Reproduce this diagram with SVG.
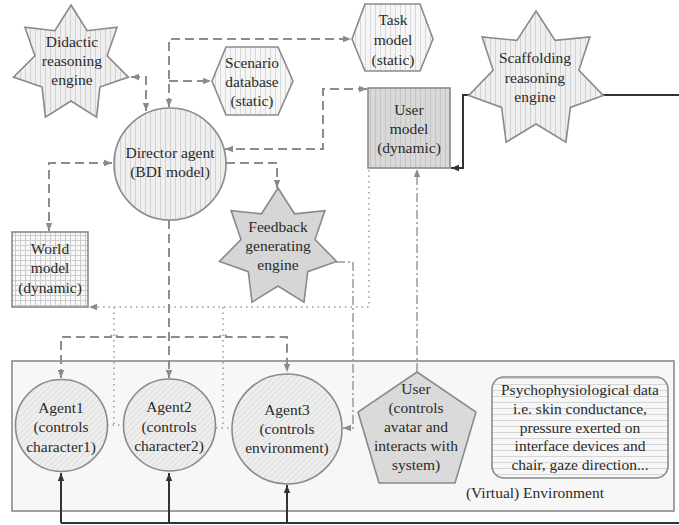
<svg xmlns="http://www.w3.org/2000/svg" width="679" height="525" viewBox="0 0 679 525">
<defs>
  <pattern id="vstripe" width="5" height="10" patternUnits="userSpaceOnUse">
    <rect width="5" height="10" fill="#efefef"/>
    <line x1="0.5" y1="0" x2="0.5" y2="10" stroke="#d2d2d2" stroke-width="1"/>
  </pattern>
  <pattern id="vstripeLight" width="5" height="10" patternUnits="userSpaceOnUse">
    <rect width="5" height="10" fill="#f6f6f6"/>
    <line x1="0.5" y1="0" x2="0.5" y2="10" stroke="#d8d8d8" stroke-width="1"/>
  </pattern>
  <pattern id="vstripeDark" width="5" height="10" patternUnits="userSpaceOnUse">
    <rect width="5" height="10" fill="#d8d8d8"/>
    <line x1="0.5" y1="0" x2="0.5" y2="10" stroke="#c4c4c4" stroke-width="1"/>
  </pattern>
  <pattern id="grid" width="5" height="5" patternUnits="userSpaceOnUse">
    <rect width="5" height="5" fill="#f8f8f8"/>
    <path d="M0,0.5 H5 M0.5,0 V5" stroke="#cccccc" stroke-width="1"/>
  </pattern>
  <pattern id="hatch" width="4" height="4" patternUnits="userSpaceOnUse" patternTransform="rotate(45)">
    <rect width="4" height="4" fill="#eeeeee"/>
    <line x1="0" y1="0" x2="0" y2="4" stroke="#d2d2d2" stroke-width="1.1"/>
  </pattern>
  <pattern id="hstripe" width="10" height="6" patternUnits="userSpaceOnUse">
    <rect width="10" height="6" fill="#f7f7f7"/>
    <line x1="0" y1="0.5" x2="10" y2="0.5" stroke="#d6d6d6" stroke-width="1"/>
  </pattern>
  <marker id="ag" viewBox="0 0 10 10" refX="10" refY="5" markerWidth="8" markerHeight="8" markerUnits="userSpaceOnUse" orient="auto-start-reverse">
    <path d="M0,1 L10,5 L0,9 z" fill="#8a8a8a"/>
  </marker>
  <marker id="ad" viewBox="0 0 10 10" refX="10" refY="5" markerWidth="8" markerHeight="8" markerUnits="userSpaceOnUse" orient="auto-start-reverse">
    <path d="M0,1 L10,5 L0,9 z" fill="#333333"/>
  </marker>
</defs>
<style>
  .shape { stroke: #8a8a8a; stroke-width: 1.6; }
  .t { font-family: "Liberation Serif", "Times New Roman", serif; font-size: 15.5px; fill: #2a2a2a; text-anchor: middle; }
  .dash { fill: none; stroke: #8c8c8c; stroke-width: 2; stroke-dasharray: 9 5; }
  .dot { fill: none; stroke: #9a9a9a; stroke-width: 1.5; stroke-dasharray: 1.5 4; }
  .dashdot { fill: none; stroke: #999999; stroke-width: 1.5; stroke-dasharray: 9 3 2 3; }
  .solid { fill: none; stroke: #333333; stroke-width: 2; }
</style>

<g id="environment">
  <rect x="12" y="361" width="662" height="150" fill="#f7f7f7" class="shape"/>
  <text class="t" x="535" y="498">(Virtual) Environment</text>
</g>

<g id="connectors">
  <path class="dash" d="M131,77 H146 V111" marker-start="url(#ag)" marker-end="url(#ag)"/>
  <path class="dash" d="M169,107 V39 H351" marker-start="url(#ag)" marker-end="url(#ag)"/>
  <path class="dash" d="M169,81 H211" marker-end="url(#ag)"/>
  <path class="dash" d="M367,89 H323 V149 H225" marker-start="url(#ag)" marker-end="url(#ag)"/>
  <path class="dash" d="M226,163 H277 V188" marker-end="url(#ag)"/>
  <path class="dash" d="M112,163 H49 V231" marker-start="url(#ag)" marker-end="url(#ag)"/>
  <path class="dash" d="M169,220 V378" marker-end="url(#ag)"/>
  <path class="dash" d="M61,378 V337 H111 a3,3 0 0 1 6,0 H220 a3,3 0 0 1 6,0 H287 V372" marker-start="url(#ag)" marker-end="url(#ag)"/>
  <path class="dot" d="M369,170 V307 H89" marker-end="url(#ag)"/>
  <path class="dot" d="M114,307 V425 M107,425 H123"/>
  <path class="dot" d="M223,307 V428 M216,428 H232"/>
  <path class="dashdot" d="M336,262 H353 V428 H343" marker-end="url(#ag)"/>
  <path class="dashdot" d="M417,372 V169" marker-end="url(#ag)"/>
  <path class="solid" d="M469,95 H463 V168 H451" marker-end="url(#ad)"/>
  <path class="solid" d="M603,95 H679"/>
  <path class="solid" d="M61,523 H679"/>
  <path class="solid" d="M61,523 V473" marker-end="url(#ad)"/>
  <path class="solid" d="M169,523 V473" marker-end="url(#ad)"/>
  <path class="solid" d="M287,523 V485" marker-end="url(#ad)"/>
</g>

<g id="didactic">
  <polygon class="shape" fill="url(#vstripe)" points="71,5 87.1,30.7 117.1,27.2 107.1,55.8 128.5,77.1 99.9,87.1 96.6,117.2 71,101 45.4,117.2 42.1,87.1 13.5,77.1 34.9,55.8 24.9,27.2 54.9,30.7"/>
  <text class="t" x="72" y="47">Didactic</text>
  <text class="t" x="72" y="66">reasoning</text>
  <text class="t" x="72" y="85">engine</text>
</g>

<g id="scenario">
  <polygon class="shape" fill="url(#vstripeLight)" points="212,81 226,47 278,47 293,81 278,115 226,115"/>
  <text class="t" x="252" y="68">Scenario</text>
  <text class="t" x="252" y="87">database</text>
  <text class="t" x="252" y="106">(static)</text>
</g>

<g id="task">
  <polygon class="shape" fill="url(#vstripeLight)" points="352,39 365,4 420,4 433,39 420,71 365,71"/>
  <text class="t" x="393" y="25">Task</text>
  <text class="t" x="393" y="45">model</text>
  <text class="t" x="393" y="65">(static)</text>
</g>

<g id="scaffolding">
  <polygon class="shape" fill="url(#vstripe)" points="536,11 555.1,40.4 589.9,37 578.9,70.2 603.3,95.4 570.4,107.4 565.9,142.2 536,124 506.1,142.2 501.6,107.4 468.7,95.4 493.1,70.2 482.1,37 516.9,40.4"/>
  <text class="t" x="535" y="63">Scaffolding</text>
  <text class="t" x="535" y="83">reasoning</text>
  <text class="t" x="535" y="102">engine</text>
</g>

<g id="usermodel">
  <rect class="shape" fill="url(#vstripeDark)" x="368" y="88" width="82" height="80"/>
  <text class="t" x="409" y="115">User</text>
  <text class="t" x="409" y="134">model</text>
  <text class="t" x="409" y="153">(dynamic)</text>
</g>

<g id="director">
  <circle class="shape" fill="url(#vstripe)" cx="170" cy="164" r="56"/>
  <text class="t" x="170" y="158">Director agent</text>
  <text class="t" x="170" y="177">(BDI model)</text>
</g>

<g id="world">
  <rect class="shape" fill="url(#grid)" x="12" y="232" width="76" height="75"/>
  <text class="t" x="50" y="254">World</text>
  <text class="t" x="50" y="273">model</text>
  <text class="t" x="50" y="293">(dynamic)</text>
</g>

<g id="feedback">
  <polygon class="shape" fill="#d6d6d6" points="278,188 294.5,213.8 324.9,210.6 315,239.5 336.5,261.4 307.7,271.7 304,302.1 278,286 252,302.1 248.3,271.7 219.5,261.4 241,239.5 231.1,210.6 261.5,213.8"/>
  <text class="t" x="278" y="232">Feedback</text>
  <text class="t" x="278" y="251">generating</text>
  <text class="t" x="278" y="270">engine</text>
</g>

<g id="agent1">
  <circle class="shape" fill="url(#hatch)" cx="61.5" cy="425.5" r="46"/>
  <text class="t" x="61" y="413">Agent1</text>
  <text class="t" x="61" y="432">(controls</text>
  <text class="t" x="61" y="452">character1)</text>
</g>

<g id="agent2">
  <circle class="shape" fill="url(#hatch)" cx="169.5" cy="425" r="46"/>
  <text class="t" x="169" y="412">Agent2</text>
  <text class="t" x="169" y="432">(controls</text>
  <text class="t" x="169" y="451">character2)</text>
</g>

<g id="agent3">
  <circle class="shape" fill="url(#hatch)" cx="287" cy="429" r="55"/>
  <text class="t" x="287" y="415">Agent3</text>
  <text class="t" x="287" y="434">(controls</text>
  <text class="t" x="287" y="453">environment)</text>
</g>

<g id="user">
  <polygon class="shape" fill="#dadada" points="417,372 476,412 455,483 379,483 358,412"/>
  <text class="t" x="416" y="394">User</text>
  <text class="t" x="416" y="413">(controls</text>
  <text class="t" x="416" y="432">avatar and</text>
  <text class="t" x="416" y="451">interacts with</text>
  <text class="t" x="416" y="470">system)</text>
</g>

<g id="psycho">
  <rect class="shape" fill="url(#hstripe)" x="492" y="377" width="176" height="101" rx="12"/>
  <text class="t" x="580" y="395">Psychophysiological data</text>
  <text class="t" x="580" y="414">i.e. skin conductance,</text>
  <text class="t" x="580" y="433">pressure exerted on</text>
  <text class="t" x="580" y="451">interface devices and</text>
  <text class="t" x="580" y="470">chair, gaze direction...</text>
</g>
</svg>
